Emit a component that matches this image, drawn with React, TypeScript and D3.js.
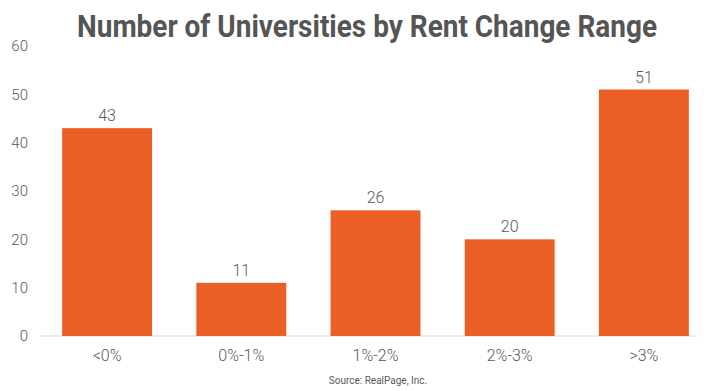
import { useEffect, useRef } from "react";
import * as d3 from "d3";

const categories = ["<0%", "0%-1%", "1%-2%", "2%-3%", ">3%"];
const counts = [43, 11, 26, 20, 51];
const yTicks = [0, 10, 20, 30, 40, 50, 60];
const title = "Number of Universities by Rent Change Range";
const source = "Source: RealPage, Inc.";

const W = 724;
const H = 391;

export default function App() {
  const ref = useRef<SVGSVGElement | null>(null);

  useEffect(() => {
    const svg = d3.select(ref.current);
    svg.selectAll("*").remove();

    const x = d3.scaleBand<string>().domain(categories).range([40, 711]).paddingInner(0.33).paddingOuter(0.165);
    const y = d3.scaleLinear().domain([0, 60]).range([336, 46]);
    const grey = "#595959";
    const font = "Roboto, 'Noto Sans', sans-serif";

    svg.append("text")
      .attr("x", W / 2 + 5)
      .attr("y", 37)
      .attr("text-anchor", "middle")
      .attr("font-family", font)
      .attr("font-weight", "bold")
      .attr("font-size", 31)
      .attr("fill", "#555")
      .attr("textLength", 580)
      .attr("lengthAdjust", "spacingAndGlyphs")
      .text(title);

    // y tick labels
    svg.append("g")
      .selectAll("text")
      .data(yTicks)
      .join("text")
      .attr("x", 28)
      .attr("y", d => y(d))
      .attr("dy", "0.35em")
      .attr("text-anchor", "end")
      .attr("font-family", font)
      .attr("font-weight", 300)
      .attr("font-size", 15)
      .attr("fill", grey)
      .text(d => d);

    // baseline
    svg.append("line")
      .attr("x1", x.range()[0])
      .attr("x2", (x(categories[categories.length - 1]) ?? 0) + x.bandwidth() + 8)
      .attr("y1", y(0))
      .attr("y2", y(0))
      .attr("stroke", "#d9d9d9")
      .attr("stroke-width", 1);

    svg.append("g")
      .selectAll("rect")
      .data(counts)
      .join("rect")
      .attr("x", (_, i) => x(categories[i]) ?? 0)
      .attr("y", d => y(d))
      .attr("width", x.bandwidth())
      .attr("height", d => y(0) - y(d))
      .attr("fill", "#E95F24");

    // value labels
    svg.append("g")
      .selectAll("text")
      .data(counts)
      .join("text")
      .attr("x", (_, i) => (x(categories[i]) ?? 0) + x.bandwidth() / 2)
      .attr("y", d => y(d) - 7)
      .attr("text-anchor", "middle")
      .attr("font-family", font)
      .attr("font-weight", 300)
      .attr("font-size", 16)
      .attr("fill", grey)
      .text(d => d);

    // category labels
    svg.append("g")
      .selectAll("text")
      .data(categories)
      .join("text")
      .attr("x", d => (x(d) ?? 0) + x.bandwidth() / 2)
      .attr("y", 361)
      .attr("text-anchor", "middle")
      .attr("font-family", font)
      .attr("font-weight", 300)
      .attr("font-size", 16)
      .attr("fill", grey)
      .text(d => d);

    svg.append("text")
      .attr("x", 378)
      .attr("y", 384)
      .attr("text-anchor", "middle")
      .attr("font-family", font)
      .attr("font-size", 10)
      .attr("fill", grey)
      .text(source);
  }, []);

  return (
    <svg
      ref={ref}
      width={W}
      height={H}
      style={{ position: "absolute", left: 0, top: 0, background: "#fff" }}
    />
  );
}
